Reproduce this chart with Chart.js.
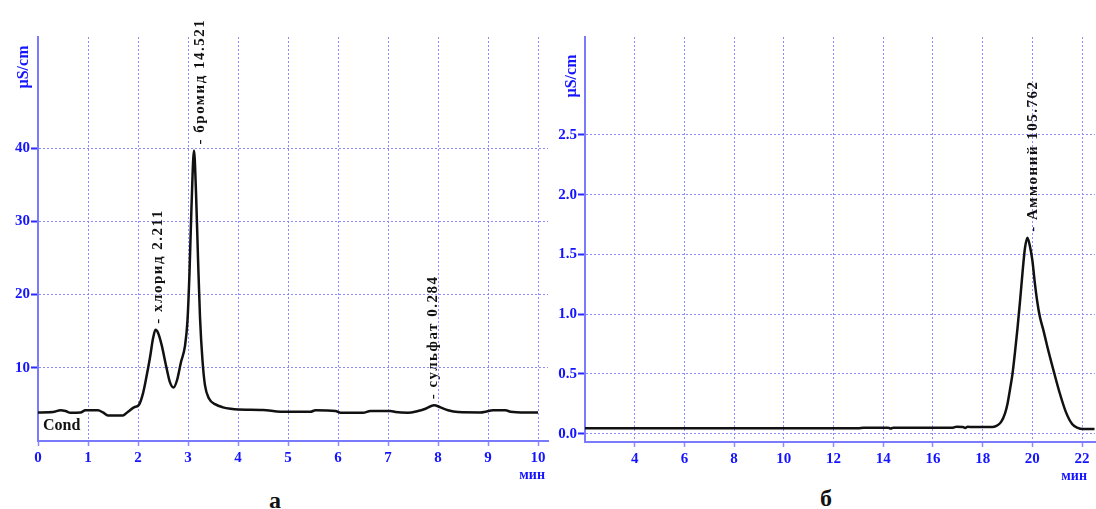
<!DOCTYPE html>
<html>
<head>
<meta charset="utf-8">
<script src="https://cdn.jsdelivr.net/npm/chart.js@4.4.1/dist/chart.umd.min.js"></script>
<style>
  body { margin: 0; background: #fff; width: 1096px; height: 509px; position: relative; overflow: hidden; }
  canvas { position: absolute; top: 0; }
  #chartA { left: 0; }
  #chartB { left: 548px; }
  .caption { position: absolute; font: bold 24px "Liberation Serif", serif; color: #111; transform: translate(-50%, -50%); }
</style>
</head>
<body>
<canvas id="chartA" width="556" height="480"></canvas>
<canvas id="chartB" width="548" height="480"></canvas>
<div class="caption" style="left:275px; top:500px">а</div>
<div class="caption" style="left:826px; top:498px">б</div>
<script>
// chromatogram a (anions), time in minutes, signal in µS/cm
const timeA = [0, 0.3, 0.45, 0.55, 0.65, 0.85, 0.95, 1.2, 1.3, 1.4, 1.7, 1.8, 1.92, 2.02, 2.1, 2.17, 2.24, 2.3, 2.35, 2.4,
  2.47, 2.57, 2.64, 2.71, 2.78, 2.86, 2.94, 2.99, 3.03, 3.07, 3.12, 3.16, 3.2, 3.24, 3.29, 3.34, 3.42, 3.55, 3.7, 3.85,
  4.0, 4.5, 4.85, 5.45, 5.55, 5.95, 6.05, 6.5, 6.65, 7.05, 7.15, 7.4, 7.6, 7.75, 7.92, 8.05, 8.2, 8.4, 8.85, 8.95,
  9.1, 9.35, 9.45, 9.75, 10.0];
const signalA = [3.9, 3.95, 4.2, 4.1, 3.85, 3.9, 4.2, 4.2, 3.9, 3.5, 3.5, 4.0, 4.6, 4.95, 6.5, 8.8, 11.4, 14.0, 15.2, 14.8,
  13.2, 10.0, 8.0, 7.3, 8.3, 10.8, 13.0, 16.5, 23, 32, 39.7, 34, 25, 16.9, 11, 7.6, 5.8, 5.0, 4.6, 4.4,
  4.3, 4.25, 4.0, 4.0, 4.2, 4.1, 3.85, 3.85, 4.1, 4.1, 3.95, 3.85, 4.1, 4.4, 4.9, 4.6, 4.2, 3.95, 3.9, 4.0,
  4.2, 4.2, 4.0, 3.9, 3.9];
const peakNamesA = ['хлорид 2.211', 'бромид 14.521', 'сульфат 0.284'];
const peakTimesA = [2.40, 3.24, 7.90];
const peakHeightsA = [15.2, 39.7, 4.9];
const xTicksA = [0, 1, 2, 3, 4, 5, 6, 7, 8, 9, 10];
const yTicksA = [10, 20, 30, 40];

// chromatogram б (cation)
const timeB = [2.0, 3.0, 13.0, 13.2, 14.2, 14.3, 14.4, 16.8, 16.95, 17.2, 17.3, 17.4, 17.6, 18.4, 18.6, 18.75, 18.9,
  19.0, 19.1, 19.2, 19.3, 19.4, 19.5, 19.6, 19.7, 19.8, 19.9, 20.0, 20.1, 20.2, 20.3, 20.45, 20.6, 20.85, 21.1,
  21.35, 21.6, 21.8, 22.05, 22.5];
const signalB = [0.045, 0.045, 0.045, 0.05, 0.05, 0.042, 0.05, 0.05, 0.058, 0.055, 0.048, 0.058, 0.055, 0.056, 0.07, 0.1, 0.17,
  0.25, 0.37, 0.5, 0.68, 0.88, 1.1, 1.34, 1.55, 1.64, 1.57, 1.45, 1.26, 1.1, 0.98, 0.86, 0.73, 0.53, 0.34,
  0.18, 0.08, 0.05, 0.038, 0.038];
const peakNamesB = ['Аммоний 105.762'];
const peakTimesB = [20.04];
const peakHeightsB = [1.64];
const xTicksB = [4, 6, 8, 10, 12, 14, 16, 18, 20, 22];
const yTicksB = [0, 0.5, 1.0, 1.5, 2.0, 2.5];

const SERIF = '"Liberation Serif", "Times New Roman", serif';
const BLUE = '#1414ff';
const GRID = '#8c8cff';
Chart.defaults.font.family = SERIF;

// texts that are not ticks: peak names, units, "Cond"
const chromText = {
  id: 'chromText',
  afterDatasetsDraw(chart, args, opts) {
    const { ctx, chartArea, scales: { x, y } } = chart;
    ctx.save();
    // peak labels, rotated, sitting on top of each peak
    ctx.font = 'bold 15px ' + SERIF;
    ctx.fillStyle = '#111';
    if ('letterSpacing' in ctx) ctx.letterSpacing = '1.5px';
    opts.names.forEach((name, i) => {
      const px = x.getPixelForValue(opts.times[i]);
      const py = y.getPixelForValue(opts.heights[i]) - 6;
      ctx.save();
      ctx.translate(px, py);
      ctx.rotate(-Math.PI / 2);
      ctx.textAlign = 'left';
      ctx.textBaseline = 'middle';
      ctx.fillText('- ' + name, 0, 0);
      ctx.restore();
    });
    if ('letterSpacing' in ctx) ctx.letterSpacing = '0px';

    // y unit
    ctx.fillStyle = BLUE;
    ctx.font = 'bold 16px ' + SERIF;
    ctx.save();
    ctx.translate(chartArea.left - opts.unitDx, chartArea.top + opts.unitDy);
    ctx.rotate(-Math.PI / 2);
    ctx.textAlign = 'center';
    ctx.textBaseline = 'middle';
    ctx.fillText('µS/cm', 0, 0);
    ctx.restore();

    // x unit
    ctx.font = 'bold 14px ' + SERIF;
    ctx.textAlign = 'right';
    ctx.textBaseline = 'middle';
    ctx.fillText('мин', chartArea.right - opts.minDx, chartArea.bottom + 34);

    if (opts.cond) {
      ctx.fillStyle = '#111';
      ctx.font = 'bold 16px ' + SERIF;
      ctx.textAlign = 'left';
      ctx.fillText('Cond', chartArea.left + 5, chartArea.bottom - 15);
    }
    ctx.restore();
  }
};

function makeChart(id, time, signal, cfg) {
  const points = time.map((t, i) => ({ x: t, y: signal[i] }));
  return new Chart(document.getElementById(id), {
    type: 'line',
    data: {
      datasets: [{
        data: points,
        borderColor: '#111',
        borderWidth: 2.5,
        pointRadius: 0,
        fill: false,
        cubicInterpolationMode: 'monotone'
      }]
    },
    options: {
      responsive: false,
      animation: false,
      devicePixelRatio: 1,
      layout: { padding: { top: 37, right: cfg.padRight, left: 0, bottom: 0 } },
      plugins: {
        legend: { display: false },
        tooltip: { enabled: false },
        chromText: cfg.text
      },
      scales: {
        x: {
          type: 'linear',
          min: cfg.xMin,
          max: cfg.xMax,
          afterBuildTicks: (scale) => { scale.ticks = cfg.xTicks.map(v => ({ value: v })); },
          afterFit: (scale) => { scale.height = cfg.xHeight; },
          ticks: {
            color: BLUE,
            font: { size: 15, weight: 'bold' },
            padding: 3,
            maxRotation: 0,
            autoSkip: false
          },
          grid: {
            color: GRID,
            lineWidth: 1,
            tickLength: 5,
            tickColor: GRID,
            tickWidth: 1.5
          },
          border: { display: true, color: '#7a7aff', width: 2, dash: [2, 2] }
        },
        y: {
          type: 'linear',
          min: cfg.yMin,
          max: cfg.yMax,
          afterBuildTicks: (scale) => { scale.ticks = cfg.yTicks.map(v => ({ value: v })); },
          afterFit: (scale) => { scale.width = cfg.yWidth; },
          ticks: {
            color: BLUE,
            font: { size: 15, weight: 'bold' },
            padding: 1,
            autoSkip: false,
            callback: cfg.yFormat
          },
          grid: {
            color: GRID,
            lineWidth: 1,
            tickLength: 7,
            tickColor: '#2a2aff',
            tickWidth: 2
          },
          border: { display: true, color: '#7a7aff', width: 2, dash: [2, 2] }
        }
      }
    },
    plugins: [chromText]
  });
}

makeChart('chartA', timeA, signalA, {
  xMin: 0, xMax: 10.2, yMin: 0, yMax: 55.2,
  xTicks: xTicksA, yTicks: yTicksA,
  xHeight: 39, yWidth: 38, padRight: 8,
  yFormat: (v) => String(v),
  text: { names: peakNamesA, times: peakTimesA, heights: peakHeightsA, unitDx: 14, unitDy: 30, minDx: 3, cond: true }
});

makeChart('chartB', timeB, signalB, {
  xMin: 2, xMax: 22.52, yMin: -0.07, yMax: 3.32,
  xTicks: xTicksB, yTicks: yTicksB,
  xHeight: 38, yWidth: 37, padRight: 1,
  yFormat: (v) => v.toFixed(1),
  text: { names: peakNamesB, times: peakTimesB, heights: peakHeightsB, unitDx: 13, unitDy: 39, minDx: 8, cond: false }
});
</script>
</body>
</html>
